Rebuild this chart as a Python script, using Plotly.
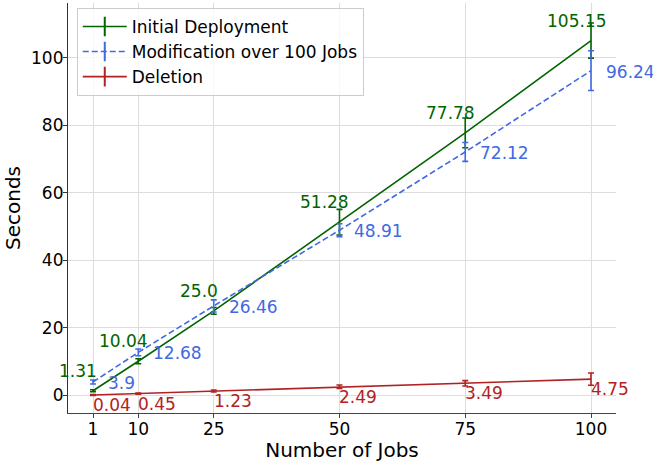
import plotly.graph_objects as go

jobs = [1, 10, 25, 50, 75, 100]
initial = [1.31, 10.04, 25.0, 51.28, 77.78, 105.15]
initial_err = [0.3, 0.75, 1.0, 3.8, 4.4, 5.2]
modification = [3.9, 12.68, 26.46, 48.91, 72.12, 96.24]
modification_err = [0.6, 1.0, 1.8, 1.9, 2.8, 5.9]
deletion = [0.04, 0.45, 1.23, 2.49, 3.49, 4.75]
deletion_err = [0.1, 0.2, 0.3, 0.5, 0.8, 1.8]
x_ticks = [1, 10, 25, 50, 75, 100]
y_ticks = [0, 20, 40, 60, 80, 100]

GREEN = "#006400"
BLUE = "#4169E1"
RED = "#B22222"
FONT = "DejaVu Sans"
FS = 17

fig = go.Figure()

series = [
    ("Initial Deployment", initial, initial_err, GREEN, "solid"),
    ("Modification over 100 Jobs", modification, modification_err, BLUE, "6px,3px"),
    ("Deletion", deletion, deletion_err, RED, "solid"),
]

for name, vals, errs, col, dash in series:
    fig.add_trace(go.Scatter(
        x=jobs, y=vals, mode="lines", name=name, showlegend=False,
        line=dict(color=col, width=1.6, dash=dash),
        error_y=dict(type="data", array=errs, color=col, thickness=1.6, width=3),
    ))
    # legend entry with a vertical errorbar glyph
    fig.add_trace(go.Scatter(
        x=[None], y=[None], mode="lines+markers", name=name,
        line=dict(color=col, width=1.6, dash=dash),
        marker=dict(symbol="line-ns-open", size=14, color=col,
                    line=dict(color=col, width=2)),
    ))

annotations = []
for xv, yv in zip(jobs, initial):
    annotations.append(dict(x=xv, y=yv, text=str(yv), showarrow=False,
                            xanchor="center", yanchor="bottom", xshift=-15, yshift=8,
                            font=dict(color=GREEN, size=FS, family=FONT)))
for xv, yv in zip(jobs, modification):
    annotations.append(dict(x=xv, y=yv, text=str(yv), showarrow=False,
                            xanchor="left", yanchor="middle", xshift=13, yshift=-1,
                            font=dict(color=BLUE, size=FS, family=FONT)))
for xv, yv in zip(jobs, deletion):
    annotations.append(dict(x=xv, y=yv, text=str(yv), showarrow=False,
                            xanchor="left", yanchor="top", xshift=-2, yshift=2,
                            font=dict(color=RED, size=FS, family=FONT)))

fig.update_layout(
    width=653, height=462,
    margin=dict(l=68, r=37, t=3, b=49, autoexpand=False),
    plot_bgcolor="white", paper_bgcolor="white",
    font=dict(family=FONT, size=FS, color="black"),
    annotations=annotations,
    legend=dict(x=0.016, y=0.988, xanchor="left", yanchor="top",
                bgcolor="rgba(255,255,255,0.8)", bordercolor="#cccccc", borderwidth=1,
                font=dict(size=FS, family=FONT), tracegroupgap=0,
                itemwidth=44),
    showlegend=True,
)
fig.update_xaxes(
    range=[-3.97, 104.97], tickvals=x_ticks, ticktext=[str(t) for t in x_ticks],
    showgrid=True, gridcolor="#dddddd", gridwidth=1, zeroline=False,
    showline=True, linecolor="#444444", linewidth=1.2,
    ticks="outside", ticklen=4, tickcolor="#444444", automargin=False,
    ticklabelstandoff=-4,
    title=dict(text="Number of Jobs", standoff=4),
)
fig.update_yaxes(
    range=[-5.3, 116.3], tickvals=y_ticks,
    showgrid=True, gridcolor="#dddddd", gridwidth=1, zeroline=False,
    showline=True, linecolor="#333333", linewidth=1.2,
    ticks="outside", ticklen=4, tickcolor="#333333", automargin=False,
    ticklabelstandoff=-4,
    title=dict(text="Seconds", standoff=5),
)

fig.write_html("out.html", config={"displayModeBar": False},
               post_script="document.body.style.margin='0';")
